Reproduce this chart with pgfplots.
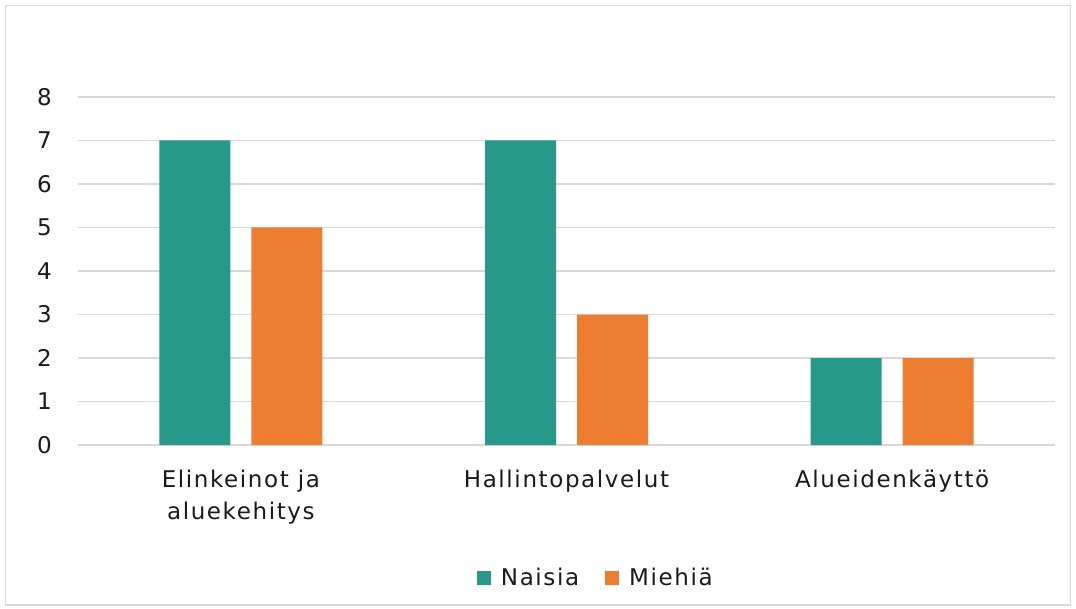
\documentclass[border=0pt]{standalone}
\usepackage{pgfplots}
\pgfplotsset{compat=1.18}
\usepackage{fontspec}
\setmainfont{DejaVu Sans}[LetterSpace=7]
\definecolor{teal1}{HTML}{26998A}
\definecolor{orange1}{HTML}{ED7D31}
\definecolor{gridc}{HTML}{D9D9D9}
\definecolor{txt}{HTML}{1A1A1A}
\begin{document}
\begin{tikzpicture}[x=1pt,y=1pt]
\fill[white] (0,0) rectangle (1076,608);
\draw[gridc, line width=1.5pt] (5.5,3) rectangle (1070.5,602.5);
\begin{axis}[
  at={(78pt,163pt)}, anchor=south west,
  scale only axis, width=977pt, height=348pt,
  xmin=-0.5, xmax=2.5, ymin=0, ymax=8,
  ybar, bar width=71pt,
  axis line style={draw=none},
  major tick length=0pt,
  ymajorgrids, grid style={gridc, line width=1.3pt},
  ytick={0,...,8},
  xtick={0,1,2},
  xticklabels={{Elinkeinot ja\\aluekehitys},{Hallintopalvelut},{Alueidenkäyttö}},
  /pgf/number format/assume math mode=true,
  ticklabel style={font=\fontsize{23}{32}\selectfont, text=txt, inner sep=0pt},
  yticklabel style={xshift=-26pt},
  xticklabel style={align=center, yshift=-25pt},
  legend style={draw=none, at={(0.530,-0.382)}, anchor=center, legend columns=2,
    font=\fontsize{23}{26}\selectfont, text=txt,
    /tikz/every even column/.append style={column sep=24pt}},
  legend image code/.code={\fill[#1] (0pt,-7pt) rectangle (14pt,7pt); \path (22pt,0pt);},
]
\addplot[fill=teal1, draw=none, bar shift=-46pt] coordinates {(0,7) (1,7) (2,2)};
\addplot[fill=orange1, draw=none, bar shift=46pt] coordinates {(0,5) (1,3) (2,2)};
\legend{Naisia, Miehiä}
\end{axis}
\end{tikzpicture}
\end{document}
